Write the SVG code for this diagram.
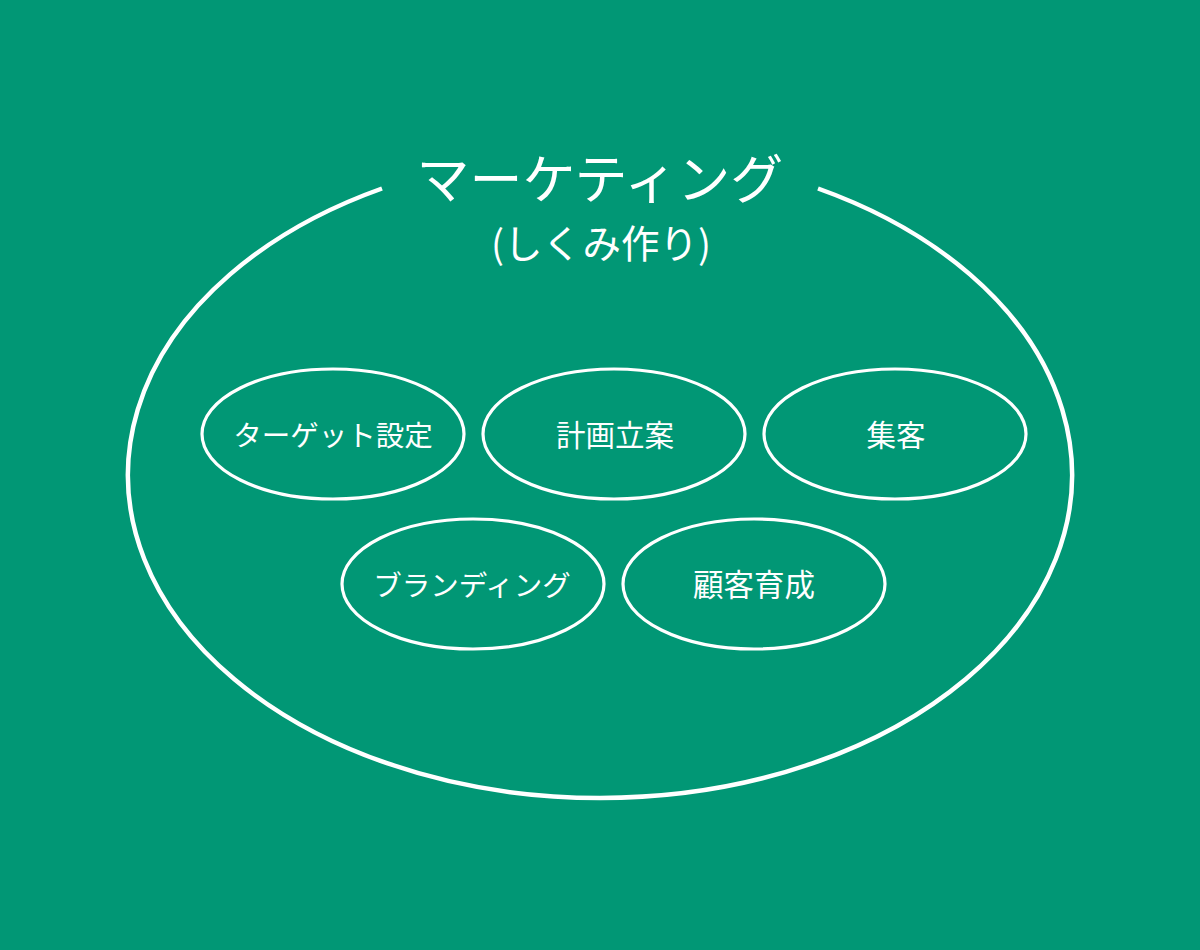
<svg xmlns="http://www.w3.org/2000/svg" width="1200" height="950" viewBox="0 0 1200 950">
<style>
.t{font-family:"Noto Sans CJK JP","Noto Sans",sans-serif;fill:#fff;text-anchor:middle}
.n{fill:none;stroke:#fff;stroke-width:3.2}
.big{fill:none;stroke:#fff;stroke-width:4.5}
</style>
<rect width="1200" height="950" fill="#019775"/>
<g id="marketing">
<path class="big" d="M382,188.5 A472,323 0 1 0 818,188.5"/>
<text class="t" x="600" y="199" font-size="53">マーケティング</text>
<text class="t" x="601" y="258" font-size="38.5">(しくみ作り)</text>
</g>
<g id="target">
<ellipse class="n" cx="333" cy="434" rx="131" ry="65"/>
<text class="t" x="333" y="446" font-size="28.5">ターゲット設定</text>
</g>
<g id="plan">
<ellipse class="n" cx="614" cy="434" rx="131" ry="65"/>
<text class="t" x="615" y="446" font-size="29.5">計画立案</text>
</g>
<g id="shukyaku">
<ellipse class="n" cx="895" cy="434" rx="131" ry="65"/>
<text class="t" x="896" y="446" font-size="29.5">集客</text>
</g>
<g id="branding">
<ellipse class="n" cx="473" cy="584" rx="131" ry="65"/>
<text class="t" x="472" y="596" font-size="28.5">ブランディング</text>
</g>
<g id="ikusei">
<ellipse class="n" cx="754" cy="584" rx="131" ry="65"/>
<text class="t" x="754" y="596" font-size="30.5">顧客育成</text>
</g>
<g id="connectors"/>
</svg>
